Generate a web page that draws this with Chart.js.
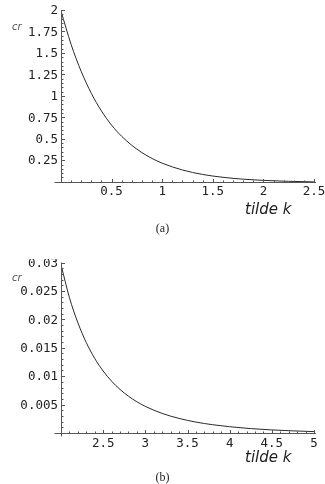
<!DOCTYPE html>
<html>
<head>
<meta charset="utf-8">
<script src="https://cdn.jsdelivr.net/npm/chart.js@4/dist/chart.umd.min.js"></script>
<style>
  html, body { margin: 0; padding: 0; background: #fff; }
  body { position: relative; width: 325px; height: 484px; overflow: hidden; }
  canvas { position: absolute; left: 0; }
  .lbl { position: absolute; white-space: nowrap; color: #333; }
  .cr { font: italic 10px/10px "DejaVu Sans", sans-serif; color: #555; left: 12px; }
  .kt { font: italic 15px/15px "DejaVu Sans", sans-serif; color: #222; left: 245px; }
  .cap { font: 12px/12px "Liberation Serif", serif; color: #222; left: 0; width: 325px; text-align: center; }
</style>
</head>
<body>
<canvas id="chartA" width="325" height="240" style="top:0"></canvas>
<canvas id="chartB" width="325" height="225" style="top:259px"></canvas>

<div class="lbl cr" style="top:22px">cr</div>
<div class="lbl kt" style="top:202px">tilde k</div>
<div class="lbl cap" style="top:222px">(a)</div>

<div class="lbl cr" style="top:273px">cr</div>
<div class="lbl kt" style="top:450px">tilde k</div>
<div class="lbl cap" style="top:471px">(b)</div>

<script>
// panel (a)
const kA = [0, 0.1, 0.2, 0.3, 0.4, 0.5, 0.6, 0.7, 0.8, 0.9, 1.0, 1.2, 1.4, 1.6, 1.8, 2.0, 2.25, 2.5];
const crA = [2.0, 1.61, 1.295, 1.04, 0.835, 0.67, 0.54, 0.435, 0.35, 0.282, 0.227, 0.148, 0.096, 0.063, 0.041, 0.027, 0.016, 0.0095];
const xTicksA = [0.5, 1, 1.5, 2, 2.5];
const yTicksA = [0.25, 0.5, 0.75, 1, 1.25, 1.5, 1.75, 2];

// panel (b)
const kB = [2.0, 2.1, 2.2, 2.3, 2.4, 2.5, 2.6, 2.7, 2.8, 2.9, 3.0, 3.2, 3.4, 3.6, 3.8, 4.0, 4.25, 4.5, 4.75, 5.0];
const crB = [0.0298, 0.0240, 0.01958, 0.01608, 0.0133, 0.01108, 0.00929, 0.00784, 0.00665, 0.00567, 0.00486, 0.00362, 0.00274, 0.0021, 0.00163, 0.00128, 0.00095, 0.00072, 0.00055, 0.00042];
const xTicksB = [2.5, 3, 3.5, 4, 4.5, 5];
const yTicksB = [0.005, 0.01, 0.015, 0.02, 0.025, 0.03];

const tickFont = { family: "'DejaVu Sans Mono', monospace", size: 12.5 };

// Mathematica-style axes: thin lines with small inward tick marks
const mmaAxes = {
    id: "mmaAxes",
    afterDatasetsDraw(chart, args, opts) {
        const { ctx, scales: { x, y } } = chart;
        const x0 = Math.round(x.getPixelForValue(x.min)) + 0.5;
        const y0 = Math.round(y.getPixelForValue(0)) - 0.5;
        const xEnd = x.getPixelForValue(x.max);
        const yTop = y.getPixelForValue(y.max);
        ctx.save();
        ctx.strokeStyle = "#555";
        ctx.lineWidth = 1;
        ctx.beginPath();
        ctx.moveTo(x0 - 7, y0);
        ctx.lineTo(xEnd + 2, y0);
        ctx.moveTo(x0, yTop - 1);
        ctx.lineTo(x0, y0 + opts.yExtend);
        ctx.stroke();

        ctx.beginPath();
        // minor ticks
        const nx = Math.round((x.max - x.min) / opts.xMinor);
        for (let i = 1; i <= nx; i++) {
            const px = Math.round(x.getPixelForValue(x.min + i * opts.xMinor)) + 0.5;
            ctx.moveTo(px, y0);
            ctx.lineTo(px, y0 - 2);
        }
        const ny = Math.round(y.max / opts.yMinor);
        for (let i = 1; i <= ny; i++) {
            const py = Math.round(y.getPixelForValue(i * opts.yMinor)) - 0.5;
            ctx.moveTo(x0, py);
            ctx.lineTo(x0 + 2, py);
        }
        ctx.stroke();

        // major ticks
        ctx.beginPath();
        opts.xMajor.forEach((v) => {
            const px = Math.round(x.getPixelForValue(v)) + 0.5;
            ctx.moveTo(px, y0);
            ctx.lineTo(px, y0 - 3.5);
        });
        opts.yMajor.forEach((v) => {
            const py = Math.round(y.getPixelForValue(v)) - 0.5;
            ctx.moveTo(x0, py);
            ctx.lineTo(x0 + 3.5, py);
        });
        ctx.stroke();
        ctx.restore();
    },
};

function makeChart(id, xs, ys, xMin, xMax, yMax, xTicks, yTicks, areaTop, areaBottom, canvasH, minor) {
    const ctx = document.getElementById(id).getContext("2d");
    return new Chart(ctx, {
        type: "line",
        data: {
            datasets: [{
                data: xs.map((k, i) => ({ x: k, y: ys[i] })),
                borderColor: "#2a2a2a",
                borderWidth: 1,
                pointRadius: 0,
                cubicInterpolationMode: "monotone",
                fill: false,
            }],
        },
        options: {
            responsive: false,
            animation: false,
            events: [],
            layout: { padding: { top: areaTop, right: 11, bottom: 0, left: 0 } },
            plugins: {
                legend: { display: false },
                tooltip: { enabled: false },
                mmaAxes: {
                    xMinor: minor.x,
                    yMinor: minor.y,
                    xMajor: xTicks,
                    yMajor: yTicks,
                    yExtend: minor.yExtend,
                },
            },
            scales: {
                x: {
                    type: "linear",
                    min: xMin,
                    max: xMax,
                    grid: { display: false, drawTicks: false },
                    border: { display: false },
                    afterBuildTicks: (s) => { s.ticks = xTicks.map((v) => ({ value: v })); },
                    afterFit: (s) => {
                        s.height = canvasH - areaBottom;
                        s.paddingLeft = 0;
                        s.paddingRight = 0;
                    },
                    ticks: {
                        font: tickFont,
                        color: "#222",
                        padding: 2,
                        maxRotation: 0,
                        autoSkip: false,
                        callback: (v) => String(v),
                    },
                },
                y: {
                    type: "linear",
                    min: 0,
                    max: yMax,
                    grid: { display: false, drawTicks: false },
                    border: { display: false },
                    afterBuildTicks: (s) => { s.ticks = yTicks.map((v) => ({ value: v })); },
                    afterFit: (s) => {
                        s.width = 61;
                        s.paddingTop = 0;
                        s.paddingBottom = 0;
                    },
                    ticks: {
                        font: tickFont,
                        color: "#222",
                        padding: 3,
                        callback: (v) => String(v),
                    },
                },
            },
        },
        plugins: [mmaAxes],
    });
}

makeChart("chartA", kA, crA, 0, 2.5, 2, xTicksA, yTicksA, 11, 182.7, 240,
    { x: 0.1, y: 0.05, yExtend: 0 });
makeChart("chartB", kB, crB, 2, 5, 0.03, xTicksB, yTicksB, 4.5, 175, 225,
    { x: 0.1, y: 0.001, yExtend: 3 });
</script>
</body>
</html>
